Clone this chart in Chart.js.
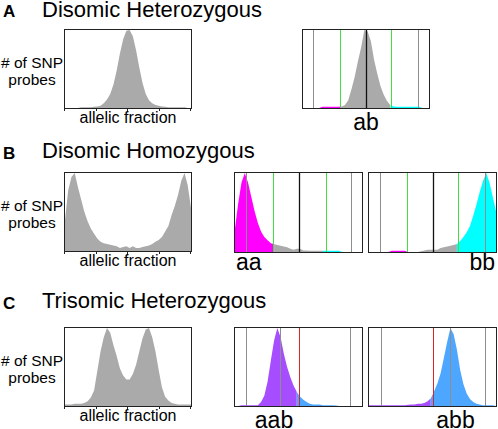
<!DOCTYPE html>
<html><head><meta charset="utf-8">
<script src="https://cdn.jsdelivr.net/npm/chart.js@4.4.1/dist/chart.umd.min.js"></script>
<style>
html,body{margin:0;padding:0;background:#fff;}
#fig{position:relative;width:498px;height:429px;overflow:hidden;font-family:"Liberation Sans",Arial,Helvetica,sans-serif;color:#000;}
#fig canvas{position:absolute;}
.t{position:absolute;white-space:nowrap;}
.big{font-size:22px;line-height:22px;}
.let{font-size:17px;line-height:17px;font-weight:bold;}
.ylab{font-size:15.5px;line-height:17px;text-align:center;width:64px;left:0;}
.xlab{font-size:16px;line-height:16px;text-align:center;width:128px;left:64px;}
.geno{font-size:23px;line-height:23px;}
</style></head><body>
<div id="fig">
  <div class="t let" style="left:3px;top:2.5px;">A</div>
  <div class="t big" style="left:42px;top:-1px;">Disomic Heterozygous</div>
  <div class="t let" style="left:3px;top:144.5px;">B</div>
  <div class="t big" style="left:42px;top:140px;">Disomic Homozygous</div>
  <div class="t let" style="left:3px;top:294.5px;">C</div>
  <div class="t big" style="left:42px;top:290px;">Trisomic Heterozygous</div>

  <div class="t ylab" style="top:53.5px;"># of SNP<br>probes</div>
  <div class="t ylab" style="top:196.5px;"># of SNP<br>probes</div>
  <div class="t ylab" style="top:351.5px;"># of SNP<br>probes</div>
  <div class="t xlab" style="top:109.7px;">allelic fraction</div>
  <div class="t xlab" style="top:252.7px;">allelic fraction</div>
  <div class="t xlab" style="top:407.7px;">allelic fraction</div>

  <div class="t geno" style="left:316px;width:100px;text-align:center;top:111px;">ab</div>
  <div class="t geno" style="left:236px;top:251px;">aa</div>
  <div class="t geno" style="right:3px;top:251px;">bb</div>
  <div class="t geno" style="left:224px;width:100px;text-align:center;top:409px;">aab</div>
  <div class="t geno" style="left:405.5px;width:100px;text-align:center;top:409px;">abb</div>
</div>
<script>
// ---- data: 40 histogram samples across allelic fraction 0..1 (relative counts, peak = 100) ----
const BIN_COUNT = 40;
const TICK_VALUES = [0, 0.25, 0.5, 0.75, 1];

const HET_ALL = [0,0,0,0,0, 1,1,1,1,1.5, 2,3,6,11,18, 30,48,70,88,99, 100,92,74,52,32, 18,10,6,4,3, 2,1.5,1,1,1, 1,1,1,0,0];
const HET_AB  = [0,0,0,0,0, 0,1.5,1.5,1.5,1.5, 1.5,1.5,2,4,10, 24,40,60,78,100, 98,86,62,44,28, 17,9,4,2,1.5, 1.5,1.5,1.5,1.5,1.5, 1.5,1.5,0,0,0];

const HOM_ALL = [40,78,95,100,82, 66,50,38,29,22, 16,12,10,9,8, 7,6,4,5,6, 4,6,4,4,5, 6,7,9,12,14, 18,25,32,46,58, 72,90,100,84,55];
const HOM_AA  = [30,62,88,100,88, 70,52,37,26,19, 15,11,10,9,8, 7,6,4,3,4, 4,2,2,1.5,1.5, 1.5,1.5,1.5,1.5,1.5, 1.5,1.5,1.5,0,0, 0,0,0,0,0];
const HOM_BB  = [0,0,0,0,0, 0,0,1.5,1.5,1.5, 1.5,1.5,0,0,0, 0,1,2,3,3, 3,3,5,6,7, 8,9,10,14,19, 25,33,46,60,76, 90,100,88,70,52];

const TRI_ALL = [2,2,2,3,3, 3,4,6,11,20, 45,70,88,100,94, 78,64,48,39,34, 34,41,53,70,87, 98,100,88,70,46, 24,12,7,4,3, 2,2,2,2,2];
const TRI_AAB = [0,0,1,1,1, 1,1,1,5,13, 31,58,84,100,88, 67,50,37,26,18, 12,8,5,3,2, 2,2,1,1,1, 1,0.5,0,0,0, 0,0,0,0,0];
const TRI_ABB = [1,1,1,1,1, 1,1,1,1,1, 1,1,1.5,2,2, 3,3,4,6,10, 19,29,42,62,82, 100,92,72,46,28, 16,9,5,3,2, 1,1,1,1,0];

// genotype-call cut-offs and reference lines (allelic fraction)
const DISOMIC_CUTS = [0.3, 0.7];
const TRISOMIC_CUTS = [0.5];
const AB_LINES  = {gray: [0.08, 0.91], green: [0.29, 0.70], black: [0.5]};
const AA_LINES  = {gray: [0.09, 0.915], green: [0.30, 0.713], black: [0.5]};
const BB_LINES  = {gray: [0.09, 0.913], green: [0.298, 0.70], black: [0.503]};
const AAB_LINES = {gray: [0.084, 0.355, 0.908], red: [0.5]};
const ABB_LINES = {gray: [0.091, 0.636, 0.911], red: [0.503]};

// ---- styling ----
const COL = {
  base: '#aaaaaa', magenta: '#ff00ff', cyan: '#00ffff', purple: '#a64dff', blue: '#4da6ff',
  gray: '#8e8e8e', green: '#3fe03f', black: '#111111', red: '#e02424'
};
const LINE_W = {gray: 1, green: 1, black: 1.3, red: 1};

const framePlugin = {
  id: 'frame',
  afterDatasetsDraw(chart, args, opts) {
    const {ctx, chartArea: a, scales: {x}} = chart;
    ctx.save();
    const lines = opts.lines || {};
    Object.keys(lines).forEach(kind => {
      lines[kind].forEach(v => {
        const px = Math.round(x.getPixelForValue(v)) + 0.5;
        ctx.strokeStyle = COL[kind];
        ctx.lineWidth = LINE_W[kind];
        ctx.beginPath(); ctx.moveTo(px, a.top); ctx.lineTo(px, a.bottom); ctx.stroke();
      });
    });
    ctx.strokeStyle = '#222'; ctx.lineWidth = 1;
    ctx.strokeRect(a.left - 0.5, a.top - 0.5, a.right - a.left + 1, a.bottom - a.top + 1);
    if (opts.ticks) {
      TICK_VALUES.forEach(v => {
        const px = Math.round(x.getPixelForValue(v)) - 0.5;
        ctx.beginPath(); ctx.moveTo(px, a.bottom); ctx.lineTo(px, a.bottom + 3); ctx.stroke();
      });
    }
    ctx.restore();
  }
};

function makeChart(box, values, colorFn, lines, ticks) {
  const cv = document.createElement('canvas');
  const W = box.w + 4, H = box.h + 8;
  cv.width = W; cv.height = H;
  cv.style.left = (box.l - 2) + 'px'; cv.style.top = (box.t - 2) + 'px';
  cv.style.width = W + 'px'; cv.style.height = H + 'px';
  document.getElementById('fig').appendChild(cv);
  const pts = values.map((y, i) => ({x: i / (BIN_COUNT - 1), y}));
  new Chart(cv, {
    type: 'line',
    data: {datasets: [{
      data: pts,
      fill: 'origin',
      backgroundColor: COL.base,
      borderWidth: 0,
      borderColor: 'rgba(0,0,0,0)',
      pointRadius: 0,
      tension: 0,
      segment: {
        backgroundColor: c => colorFn((c.p0.parsed.x + c.p1.parsed.x) / 2)
      }
    }]},
    options: {
      responsive: false, animation: false, devicePixelRatio: 1,
      layout: {padding: {left: 2, right: 2, top: 2, bottom: 6}},
      scales: {
        x: {type: 'linear', min: 0, max: 1, offset: false, display: false},
        y: {min: 0, max: 100, display: false}
      },
      plugins: {legend: {display: false}, tooltip: {enabled: false}, frame: {lines, ticks}}
    },
    plugins: [framePlugin]
  });
}

const plain = () => COL.base;
const disomic = (lo, hi) => v => v < DISOMIC_CUTS[0] ? lo : (v > DISOMIC_CUTS[1] ? hi : COL.base);
const trisomic = v => v < TRISOMIC_CUTS[0] ? COL.purple : COL.blue;

makeChart({l: 65, t: 30, w: 126, h: 78}, HET_ALL, plain, {}, true);
makeChart({l: 303, t: 30, w: 126, h: 78}, HET_AB, disomic(COL.magenta, COL.cyan), AB_LINES, false);

makeChart({l: 65, t: 173, w: 126, h: 78}, HOM_ALL, plain, {}, true);
makeChart({l: 235, t: 173, w: 127, h: 79}, HOM_AA, disomic(COL.magenta, COL.cyan), AA_LINES, false);
makeChart({l: 369, t: 173, w: 127, h: 79}, HOM_BB, disomic(COL.magenta, COL.cyan), BB_LINES, false);

makeChart({l: 65, t: 328, w: 126, h: 78}, TRI_ALL, plain, {}, true);
makeChart({l: 235, t: 328, w: 127, h: 78}, TRI_AAB, trisomic, AAB_LINES, false);
makeChart({l: 369, t: 328, w: 127, h: 78}, TRI_ABB, trisomic, ABB_LINES, false);
</script>
</body></html>
